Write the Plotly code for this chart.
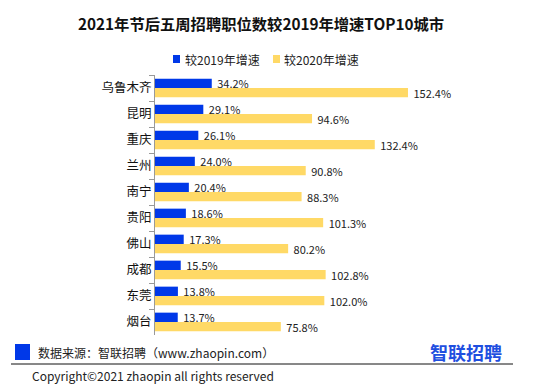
import plotly.graph_objects as go

cities = ["乌鲁木齐", "昆明", "重庆", "兰州", "南宁", "贵阳", "佛山", "成都", "东莞", "烟台"]
vs2019 = [34.2, 29.1, 26.1, 24.0, 20.4, 18.6, 17.3, 15.5, 13.8, 13.7]
vs2020 = [152.4, 94.6, 132.4, 90.8, 88.3, 101.3, 80.2, 102.8, 102.0, 75.8]
series_names = ["较2019年增速", "较2020年增速"]
title_text = "2021年节后五周招聘职位数较2019年增速TOP10城市"
source_text = "数据来源：智联招聘（www.zhaopin.com）"
logo_text = "智联招聘"
copyright_text = "Copyright©2021 zhaopin all rights reserved"

BLUE = "#0038E8"
YELLOW = "#FFD966"
FONT = "Noto Sans CJK SC, Noto Sans, sans-serif"

W, H = 545, 392
L, R, T, B = 155, 0, 75, 57
pw, ph = W - L - R, H - T - B


def px(x):
    return (x - L) / pw


def py(y):
    return (H - B - y) / ph


fig = go.Figure()
for name, vals, col in [(series_names[0], vs2019, BLUE), (series_names[1], vs2020, YELLOW)]:
    fig.add_trace(go.Bar(
        y=cities, x=vals, orientation="h", name=name,
        marker=dict(color=col, line=dict(width=0)),
        text=[f"{v:.1f}%" for v in vals], texttemplate=" %{text}",
        textposition="outside", cliponaxis=False, constraintext="none",
        textfont=dict(size=11, color="#222222", family=FONT),
    ))

fig.update_layout(
    width=W, height=H,
    margin=dict(l=L, r=R, t=T, b=B, autoexpand=False),
    paper_bgcolor="white", plot_bgcolor="white",
    font=dict(family=FONT, color="#111111"),
    barmode="group", bargap=0.28, bargroupgap=0,
    showlegend=False,
    title=dict(text=f"<b>{title_text}</b>", x=0.479, xanchor="center",
               y=1 - 25 / H, yanchor="middle",
               font=dict(size=15.3, color="#111111", family=FONT)),
    xaxis=dict(range=[0, pw / 1.66], visible=False, fixedrange=True),
    yaxis=dict(categoryorder="array", categoryarray=cities, autorange="reversed",
               showline=True, linecolor="#999999", linewidth=1,
               ticks="outside", ticklen=5, tickcolor="#999999", tickson="boundaries",
               tickfont=dict(size=12.5, color="#111111", family=FONT),
               showgrid=False, zeroline=False, automargin=False, fixedrange=True),
)

# legend (drawn as squares + text)
legend_items = [(series_names[0], BLUE, 173, 183), (series_names[1], YELLOW, 273, 282)]
for name, col, sx, tx in legend_items:
    fig.add_shape(type="rect", xref="paper", yref="paper",
                  x0=px(sx), x1=px(sx + 7), y0=py(63), y1=py(55),
                  fillcolor=col, line=dict(width=0))
    fig.add_annotation(xref="paper", yref="paper", x=px(tx), y=py(59),
                       xanchor="left", yanchor="middle", showarrow=False,
                       text=name, font=dict(size=12, color="#222222", family=FONT))

fig.add_shape(type="rect", xref="paper", yref="paper",
              x0=px(15), x1=px(30), y0=py(360), y1=py(344),
              fillcolor=BLUE, line=dict(width=0))
fig.add_shape(type="line", xref="paper", yref="paper",
              x0=px(11), x1=px(513), y0=py(364), y1=py(364),
              line=dict(color="#111111", width=1))
fig.add_annotation(xref="paper", yref="paper", x=px(36), y=py(352),
                   xanchor="left", yanchor="middle", showarrow=False,
                   text=source_text, font=dict(size=12, color="#222222", family=FONT))
fig.add_annotation(xref="paper", yref="paper", x=px(504), y=py(352),
                   xanchor="right", yanchor="middle", showarrow=False,
                   text=f"<b>{logo_text}</b>", font=dict(size=18, color="#1F4FE0", family=FONT))
fig.add_annotation(xref="paper", yref="paper", x=px(30), y=py(376),
                   xanchor="left", yanchor="middle", showarrow=False,
                   text=copyright_text, font=dict(size=12, color="#222222", family=FONT))

fig.write_html("out.html", config={"displayModeBar": False},
               post_script="document.body.style.margin='0';")
